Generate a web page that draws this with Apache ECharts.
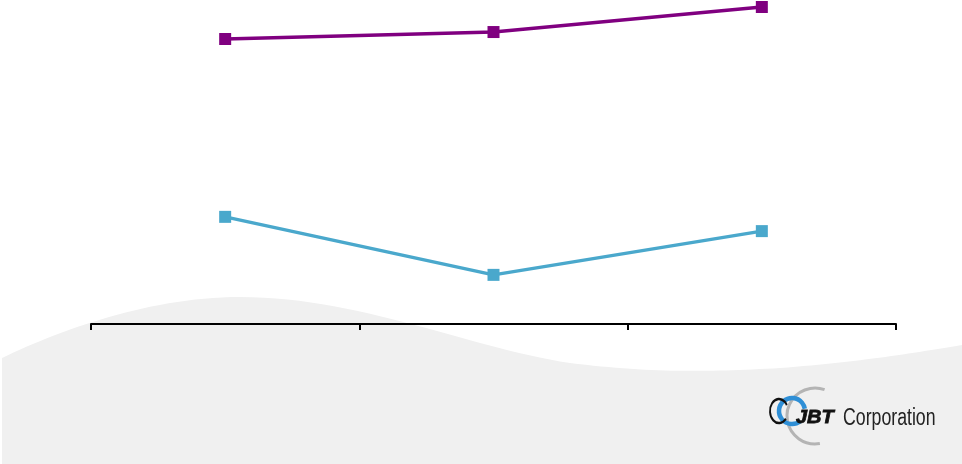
<!DOCTYPE html>
<html><head><meta charset="utf-8">
<script src="https://cdn.jsdelivr.net/npm/echarts@6/dist/echarts.min.js"></script>
<style>html,body{margin:0;padding:0;background:#fff}#c{width:962px;height:464px}</style>
</head><body><div id="c"></div>
<script>
const categories = ['A', 'B', 'C'];
const purpleValues = [89.9, 92.1, 100];
const blueValues = [33.8, 15.5, 29.3];

// decorative background wave outline (cubic bezier segments)
function bez(p0, p1, p2, p3, n, out) {
  for (let i = 0; i <= n; i++) {
    const t = i / n, u = 1 - t;
    out.push([
      u*u*u*p0[0] + 3*u*u*t*p1[0] + 3*u*t*t*p2[0] + t*t*t*p3[0],
      u*u*u*p0[1] + 3*u*u*t*p1[1] + 3*u*t*t*p2[1] + t*t*t*p3[1]
    ]);
  }
}
const wave = [];
bez([2,358],[60,330],[150,297],[240,297],30,wave);
bez([240,297],[360,297],[470,348],[570,363],30,wave);
bez([570,363],[650,373],[710,372],[780,368],30,wave);
bez([780,368],[860,362],[920,352],[962,345],30,wave);
wave.push([962,464],[2,464]);

const D = Math.PI / 180;
const chart = echarts.init(document.getElementById('c'));
chart.setOption({
  animation: false,
  backgroundColor: '#fff',
  grid: { left: 91, right: 66, top: 7, bottom: 140 },
  xAxis: {
    type: 'category', data: categories, boundaryGap: true,
    axisLine: { lineStyle: { color: '#000', width: 2 } },
    axisTick: { show: true, length: 6, lineStyle: { color: '#000', width: 2 } },
    axisLabel: { show: false }, splitLine: { show: false }, z: 5
  },
  yAxis: { type: 'value', min: 0, max: 100, show: false, splitLine: { show: false } },
  graphic: [
    { type: 'polygon', z: -10, silent: true, shape: { points: wave }, style: { fill: '#f0f0f0' } },
    { type: 'arc', z: 10, x: 815, y: 416, shape: { cx: 0, cy: 0, r: 28, startAngle: 80 * D, endAngle: 290 * D, clockwise: true },
      style: { fill: 'none', stroke: '#b4b4b4', lineWidth: 3 } },
    { type: 'arc', z: 10, x: 792, y: 411, shape: { cx: 0, cy: 0, r: 13, startAngle: 50 * D, endAngle: 350 * D, clockwise: true },
      style: { fill: 'none', stroke: '#2f8fd6', lineWidth: 4.5 } },
    { type: 'arc', z: 10, x: 779, y: 411, scaleX: 0.75, shape: { cx: 0, cy: 0, r: 12, startAngle: 40 * D, endAngle: 330 * D, clockwise: true },
      style: { fill: 'none', stroke: '#111', lineWidth: 2.5 } },
    { type: 'text', z: 11, x: 796, y: 408, scaleX: 1.05, style: { text: 'JBT', font: 'italic bold 19px "Liberation Sans", Arial, sans-serif', fill: '#111', verticalAlign: 'top', stroke: '#111', lineWidth: 0.8 } },
    { type: 'text', z: 11, x: 843, y: 407, scaleX: 0.77, style: { text: 'Corporation', font: '23px "Liberation Sans", Arial, sans-serif', fill: '#222', verticalAlign: 'top' } }
  ],
  series: [
    { type: 'line', data: purpleValues, clip: false, symbol: 'rect', symbolSize: 12,
      itemStyle: { color: '#800080' }, lineStyle: { color: '#800080', width: 3.5 } },
    { type: 'line', data: blueValues, clip: false, symbol: 'rect', symbolSize: 12,
      itemStyle: { color: '#4aa8cc' }, lineStyle: { color: '#4aa8cc', width: 3.5 } }
  ]
});
</script></body></html>
